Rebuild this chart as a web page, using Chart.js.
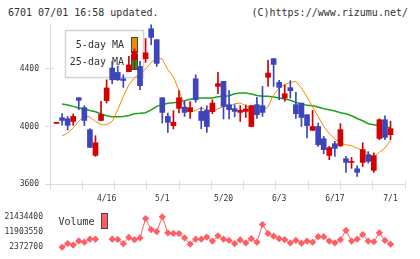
<!DOCTYPE html>
<html>
<head>
<meta charset="utf-8">
<script src="https://cdn.jsdelivr.net/npm/chart.js@4.4.1/dist/chart.umd.min.js"></script>
<style>
html,body{margin:0;padding:0;background:#fff;}
#wrap{position:relative;width:420px;height:259px;overflow:hidden;background:#fff;}
canvas{position:absolute;left:0;}
#main{top:0;}
#vol{top:205px;}
.hdr{position:absolute;top:6px;font-family:'DejaVu Sans Mono',monospace;font-size:10px;line-height:14px;color:#333;white-space:pre;}
</style>
</head>
<body>
<div id="wrap">
<div class="hdr" style="left:8px">6701 07/01 16:58 updated.</div>
<div class="hdr" style="right:12px">(C)https://www.rizumu.net/</div>
<canvas id="main" width="420" height="205" style="width:420px;height:205px"></canvas>
<canvas id="vol" width="420" height="54" style="width:420px;height:54px"></canvas>
</div>
<script>
// ---- data ----
const dates = ['4/3','4/4','4/5','4/8','4/9','4/10','4/11','4/12','4/15','4/16','4/17','4/18','4/19','4/22','4/23','4/24','4/25','4/26','4/30',
  '5/1','5/2','5/7','5/8','5/9','5/10','5/13','5/14','5/15','5/16','5/17','5/20','5/21','5/22','5/23','5/24','5/27','5/28','5/29','5/30','5/31',
  '6/3','6/4','6/5','6/6','6/7','6/10','6/11','6/12','6/13','6/14','6/17','6/18','6/19','6/20','6/21','6/24','6/25','6/26','6/27','6/28','7/1'];
const opens  = [4022,4061,4054,4035,4200,4131,3978,3799,4042,4180,4407,4376,4332,4381,4465,4418,4471,4680,4604,4200,4070,4006,4126,4135,4103,4332,4105,4112,4103,4279,
  4314,4152,4124,4098,4105,4000,4152,4145,4342,4472,4307,4198,4270,4152,4163,4082,3973,4000,3915,3799,3880,3866,3776,3750,3706,3750,3804,3695,3917,4047,3943];
const highs  = [4026,4089,4070,4087,4200,4145,3985,3936,4175,4325,4453,4420,4360,4488,4540,4453,4612,4708,4604,4200,4094,4110,4249,4175,4173,4360,4135,4145,4186,4376,
  4314,4249,4152,4145,4150,4145,4203,4279,4460,4472,4321,4289,4319,4237,4163,4082,4112,4024,3931,3862,3896,4020,3792,3785,3727,3887,3825,3816,4054,4075,4036];
const lows   = [4022,4010,3976,4008,4117,4006,3852,3792,4042,4163,4298,4320,4272,4381,4400,4256,4446,4569,4418,4024,3959,3983,4094,4070,4056,4168,3985,3959,4089,4228,
  4052,4052,4066,4035,4063,4000,4056,4070,4279,4279,4186,4175,4198,4056,4000,3920,3973,3862,3811,3769,3792,3860,3681,3709,3653,3722,3746,3681,3908,3908,3908];
const closes = [4026,4042,4008,4070,4182,4042,3855,3887,4084,4268,4325,4325,4320,4428,4522,4284,4513,4620,4439,4098,4029,4029,4200,4098,4131,4186,4042,4000,4163,4298,
  4140,4117,4105,4112,4122,4145,4082,4098,4372,4432,4272,4228,4249,4089,4063,4006,4000,3873,3839,3853,3848,3978,3750,3755,3681,3839,3757,3797,4047,3924,3985];
const ma5  = [null,3934,3955,3990,4035,4075,4066,4035,4012,4012,4035,4117,4209,4290,4340,4365,4400,4446,4477,4470,4395,4344,4251,4145,4098,4112,4129,4117,4105,4122,
  4140,4136,4159,4163,4145,4117,4112,4112,4136,4221,4268,4291,4307,4314,4268,4205,4137,4070,4001,3950,3913,3885,3873,3866,3850,3832,3811,3788,3820,3850,3903];
const ma25 = [null,4157,4150,4140,4129,4122,4112,4103,4087,4075,4068,4068,4070,4077,4089,4092,4096,4115,4140,4152,4161,4166,4170,4180,4189,4196,4198,4198,4198,4207,
  4211,4214,4228,4233,4233,4226,4216,4210,4210,4205,4198,4191,4182,4168,4157,4147,4145,4136,4124,4117,4108,4096,4089,4075,4056,4040,4019,4012,4005,4001,3990];
const volume = [null,2372700,4700000,3700000,6300000,5500000,7400000,7400000,null,null,7400000,7200000,4600000,8500000,7100000,8200000,20300000,13400000,12200000,21434400,
  11400000,11000000,10900000,8200000,4300000,7400000,7400000,8700000,6200000,9500000,7400000,6600000,4600000,6960000,5070000,7700000,5500000,16600000,11000000,9300000,
  7700000,7100000,5070000,6600000,4900000,6200000,5500000,9000000,9000000,6200000,5070000,7100000,12900000,6200000,7400000,10300000,6200000,5800000,11400000,6600000,4260000];
const dateTickLabels = ['4/16','5/1','5/20','6/3','6/17','7/1'];
const priceTicks = [3600,4000,4400];
const volumeTicks = [2372700,11903550,21434400];
const seriesNames = ['5-day MA','25-day MA','Volume'];

// ---- styles ----
const UP = '#d50000', DOWN = '#3d45bd';
const MA5C = '#f28b00', MA25C = '#1aa31a', VOLC = '#ff5e62';
const AXIS = '#dcdcdc', TXT = '#333';
const MONO = "'DejaVu Sans Mono', monospace";
const XMIN = -1.17, XMAX = 62.6;

const candleColor = ctx => closes[ctx.dataIndex] >= opens[ctx.dataIndex] ? UP : DOWN;
const dateIdx = dateTickLabels.map(d => dates.indexOf(d));

const crossTicks = {
  id: 'crossTicks',
  afterDraw(chart) {
    const {ctx, chartArea: a, scales: {x, y}} = chart;
    ctx.save();
    ctx.strokeStyle = AXIS; ctx.lineWidth = 1;
    ctx.beginPath();
    for (let k = 0; k <= 11; k++) {
      const px = Math.round(x.getPixelForValue(x.min + (x.max - x.min) * k / 11) - 0.5) + 0.5;
      const by = Math.round(a.bottom - 0.5) + 0.5;
      ctx.moveTo(px, by - 4); ctx.lineTo(px, by + 5);
    }
    priceTicks.forEach(v => {
      const py = Math.round(y.getPixelForValue(v) - 0.5) + 0.5;
      ctx.moveTo(a.left - 5, py); ctx.lineTo(a.left + 4, py);
    });
    ctx.stroke();
    ctx.restore();
  }
};

const mainLegend = {
  id: 'mainLegend',
  beforeDatasetsDraw(chart) {
    const ctx = chart.ctx;
    const items = chart.data.datasets.filter(d => d.type === 'line');
    ctx.save();
    ctx.fillStyle = '#fff'; ctx.strokeStyle = '#d4d4d4'; ctx.lineWidth = 1.5;
    ctx.fillRect(65.5, 30.5, 78, 47); ctx.strokeRect(65.5, 30.5, 78, 47);
    ctx.font = '10px ' + MONO; ctx.textAlign = 'right'; ctx.textBaseline = 'middle';
    items.forEach((d, k) => {
      const yy = 45.5 + k * 17;
      ctx.fillStyle = TXT; ctx.fillText(d.label, 124, yy);
      ctx.fillStyle = d.borderColor; ctx.fillRect(131.5, yy - 8, 6, 15);
      ctx.strokeStyle = '#444'; ctx.lineWidth = 1; ctx.strokeRect(131.5, yy - 8, 6, 15);
    });
    ctx.restore();
  }
};

const volLegend = {
  id: 'volLegend',
  afterDraw(chart) {
    const ctx = chart.ctx;
    const d = chart.data.datasets[0];
    ctx.save();
    ctx.font = '10px ' + MONO; ctx.textAlign = 'left'; ctx.textBaseline = 'middle';
    ctx.fillStyle = TXT; ctx.fillText(d.label, 58.5, 17);
    ctx.fillStyle = d.borderColor; ctx.fillRect(101.5, 8.5, 6, 15);
    ctx.strokeStyle = '#444'; ctx.lineWidth = 1; ctx.strokeRect(101.5, 8.5, 6, 15);
    ctx.restore();
  }
};

new Chart(document.getElementById('main'), {
  type: 'bar',
  data: {
    datasets: [
      {label: 'body', data: dates.map((d, i) => ({x: i, y: [opens[i], closes[i]]})),
       backgroundColor: candleColor, barThickness: 5, minBarLength: 1, grouped: false, borderWidth: 0},
      {label: 'wick', data: dates.map((d, i) => ({x: i, y: [lows[i], highs[i]]})),
       backgroundColor: candleColor, barThickness: 1, grouped: false, borderWidth: 0},
      {type: 'line', label: seriesNames[0], data: ma5.map((v, i) => ({x: i, y: v})),
       borderColor: MA5C, borderWidth: 1, pointRadius: 0, tension: 0, fill: false},
      {type: 'line', label: seriesNames[1], data: ma25.map((v, i) => ({x: i, y: v})),
       borderColor: MA25C, borderWidth: 1.5, pointRadius: 0, tension: 0, fill: false}
    ]
  },
  options: {
    responsive: false, animation: false, devicePixelRatio: 1, events: [],
    layout: {padding: {left: 0, right: 15, top: 24, bottom: 0}},
    plugins: {legend: {display: false}, tooltip: {enabled: false}},
    scales: {
      x: {type: 'linear', min: XMIN, max: XMAX, offset: false,
          grid: {display: false, drawTicks: false},
          border: {display: true, color: AXIS, width: 1},
          afterBuildTicks: s => { s.ticks = dateIdx.map(v => ({value: v})); },
          afterFit: s => { s.height = 21; },
          ticks: {autoSkip: false, maxRotation: 0, padding: 10, color: TXT,
                  font: {family: MONO, size: 8}, callback: v => dates[v]}},
      y: {type: 'linear', min: 3600, max: 4713,
          grid: {display: false, drawTicks: false},
          border: {display: true, color: AXIS, width: 1},
          afterBuildTicks: s => { s.ticks = priceTicks.map(v => ({value: v})); },
          afterFit: s => { s.width = 50; },
          ticks: {padding: 11, color: TXT, font: {family: MONO, size: 8}, callback: v => String(v)}}
    }
  },
  plugins: [crossTicks, mainLegend]
});

new Chart(document.getElementById('vol'), {
  type: 'line',
  data: {
    datasets: [{label: seriesNames[2], data: volume.map((v, i) => ({x: i, y: v})),
      borderColor: VOLC, backgroundColor: VOLC, borderWidth: 1, pointStyle: 'rectRot',
      pointRadius: 3.6, pointBorderWidth: 0, tension: 0, spanGaps: false, clip: false}]
  },
  options: {
    responsive: false, animation: false, devicePixelRatio: 1, events: [],
    layout: {padding: {left: 0, right: 15, top: 4, bottom: 10}},
    plugins: {legend: {display: false}, tooltip: {enabled: false}},
    scales: {
      x: {type: 'linear', min: XMIN, max: XMAX, display: false},
      y: {type: 'linear', min: volumeTicks[0], max: volumeTicks[2],
          grid: {display: false, drawTicks: false}, border: {display: false},
          afterBuildTicks: s => { s.ticks = volumeTicks.map(v => ({value: v})); },
          afterFit: s => { s.width = 50; },
          ticks: {padding: 7, color: TXT, font: {family: MONO, size: 8}, callback: v => String(v)}}
    }
  },
  plugins: [volLegend]
});
</script>
</body>
</html>
